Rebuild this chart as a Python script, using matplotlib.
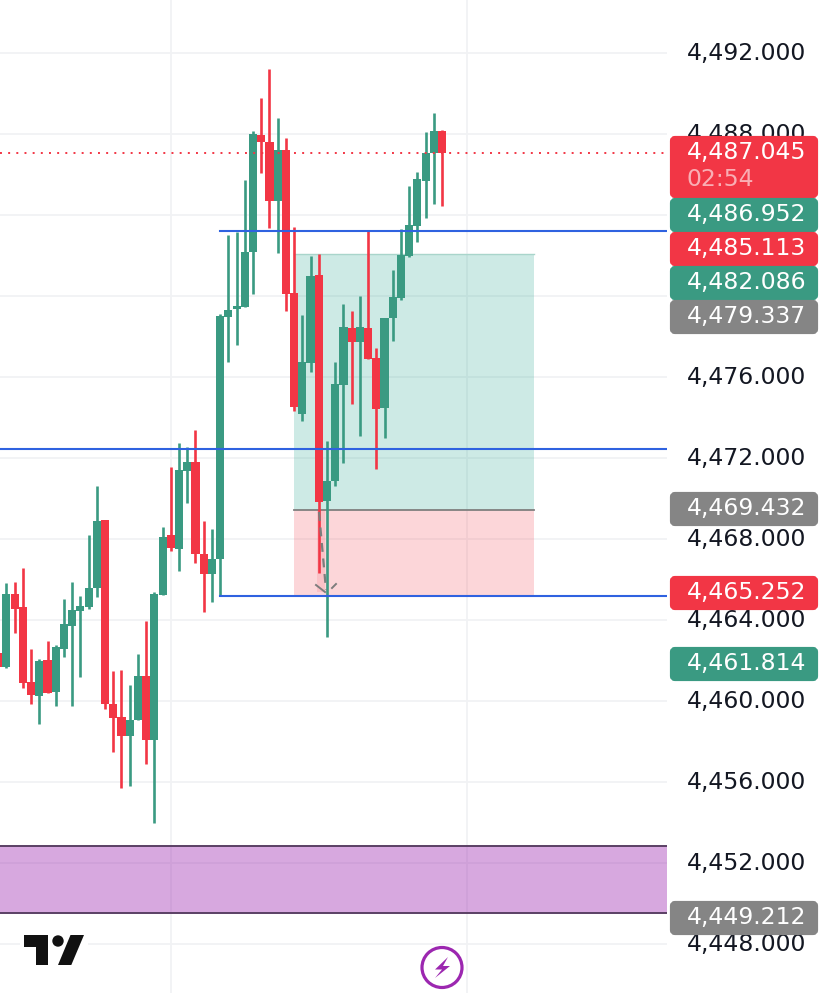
import matplotlib
matplotlib.use("Agg")
import matplotlib.pyplot as plt
from matplotlib.patches import Circle, FancyBboxPatch, Polygon, Rectangle
from matplotlib.transforms import ScaledTranslation

plt.rcParams['font.family'] = ['DejaVu Sans']

# candles, oldest first (first one is cut by the left edge)
opens = [4462.37, 4461.68, 4465.28, 4464.64, 4460.94, 4460.25, 4462.03, 4460.45, 4462.57, 4463.70,
         4464.44, 4464.64, 4465.58, 4468.94, 4459.85, 4459.21, 4458.27, 4459.06, 4461.24, 4458.07,
         4465.23, 4468.20, 4467.51, 4471.36, 4471.80, 4467.26, 4466.27, 4467.01, 4478.96, 4479.36,
         4479.46, 4482.17, 4487.95, 4487.60, 4484.69, 4487.21, 4480.15, 4474.17, 4476.69, 4481.04,
         4469.88, 4470.86, 4475.60, 4478.42, 4477.73, 4478.42, 4476.94, 4474.47, 4478.91, 4479.90,
         4481.97, 4483.46, 4485.68, 4487.06, 4488.15]
highs = [4463.01, 4465.83, 4465.88, 4466.57, 4462.57, 4462.07, 4462.96, 4462.77, 4465.04, 4465.88,
         4465.19, 4468.20, 4470.62, 4468.94, 4461.48, 4461.53, 4460.79, 4462.32, 4463.95, 4465.38,
         4468.59, 4471.56, 4472.74, 4472.54, 4473.38, 4468.89, 4468.49, 4479.11, 4483.01, 4483.16,
         4485.73, 4488.15, 4489.78, 4491.21, 4488.79, 4487.80, 4483.41, 4479.06, 4481.97, 4482.07,
         4472.84, 4476.74, 4479.60, 4479.26, 4480.00, 4483.21, 4477.43, 4478.91, 4481.28, 4483.31,
         4485.43, 4486.12, 4488.10, 4489.04, 4488.20]
lows = [4460.94, 4461.63, 4463.36, 4460.64, 4459.85, 4458.86, 4460.40, 4459.75, 4462.17, 4459.75,
        4461.19, 4464.54, 4465.14, 4459.61, 4457.48, 4455.70, 4455.80, 4459.06, 4456.89, 4453.98,
        4465.23, 4467.41, 4466.42, 4469.78, 4466.82, 4464.40, 4464.89, 4465.19, 4476.74, 4477.58,
        4479.46, 4480.10, 4486.07, 4483.36, 4482.12, 4479.26, 4474.32, 4473.83, 4476.25, 4466.32,
        4463.16, 4470.62, 4471.75, 4474.67, 4473.09, 4476.89, 4471.46, 4472.99, 4477.78, 4479.80,
        4481.93, 4482.67, 4483.85, 4484.54, 4484.44]
closes = [4461.68, 4465.28, 4464.54, 4460.89, 4460.30, 4461.98, 4460.40, 4462.67, 4463.80, 4464.49,
          4464.69, 4465.58, 4468.89, 4459.85, 4459.16, 4458.27, 4459.06, 4461.24, 4458.07, 4465.28,
          4468.10, 4467.56, 4471.41, 4471.80, 4467.26, 4466.27, 4467.01, 4479.01, 4479.31, 4479.51,
          4482.17, 4488.00, 4487.60, 4484.69, 4487.21, 4480.10, 4474.52, 4476.74, 4480.99, 4469.83,
          4470.86, 4475.65, 4478.47, 4477.73, 4478.47, 4476.89, 4474.42, 4478.91, 4479.95, 4482.02,
          4483.51, 4485.78, 4487.06, 4488.15, 4487.05]
candle_x = list(range(-1, 54))

price_ticks = [4448, 4452, 4456, 4460, 4464, 4468, 4472, 4476, 4480, 4484, 4488, 4492]
# 4,480 and 4,484 sit fully behind the price badges
tick_labels = ["4,448.000", "4,452.000", "4,456.000", "4,460.000", "4,464.000", "4,468.000",
               "4,472.000", "4,476.000", "", "", "4,488.000", "4,492.000"]
time_grid = [20, 56]

last_price = 4487.045
level_full = 4472.44
level_upper = 4483.21
level_lower = 4465.19
level_start = 26
pos_start, pos_end = 35, 64.16
pos_target, pos_entry, pos_stop = 4482.086, 4469.432, 4465.252
zone_top, zone_bottom = 4452.84, 4449.53

badge_text = ["4,486.952", "4,485.113", "4,482.086", "4,479.337", "4,469.432", "4,465.252", "4,461.814", "4,449.212"]

GREEN = '#3a9a82'
RED = '#f23645'
GREY = '#858585'
BLUE = '#2f62e0'
GRID = '#f1f2f4'
LABEL_SIZE = 16.9

W, H = 827, 997
fig = plt.figure(figsize=(W / 100, H / 100), dpi=100, facecolor='white')
ax = fig.add_axes([0, 4 / H, 667 / W, 993 / H])
ax.set_xlim(-0.78, 80.36)
ax.set_ylim(4445.58, 4494.617)

for s in ax.spines.values():
    s.set_visible(False)
ax.set_xticks(time_grid)
ax.set_xticklabels([])
ax.set_yticks(price_ticks)
ax.set_yticklabels(tick_labels)
ax.yaxis.tick_right()
ax.tick_params(axis='both', length=0)
ax.tick_params(axis='y', pad=14.4, labelsize=LABEL_SIZE, labelcolor='#131722')
nudge = ScaledTranslation(0, 0.022, fig.dpi_scale_trans)
for lbl in ax.get_yticklabels():
    lbl.set_transform(lbl.get_transform() + nudge)
ax.grid(True, color=GRID, linewidth=1.3)
ax.set_axisbelow(True)

# long position box
ax.fill_between([pos_start, pos_end], pos_entry, pos_target, color='#089981', alpha=0.2, linewidth=0, zorder=1)
ax.fill_between([pos_start, pos_end], pos_stop, pos_entry, color=RED, alpha=0.2, linewidth=0, zorder=1)
ax.plot([pos_start, pos_end], [pos_entry, pos_entry], color='#7f7f7f', linewidth=1.3, zorder=1.5)
ax.plot([pos_start, pos_end], [pos_target, pos_target], color='#a9d5cb', linewidth=1, zorder=1.5)

# purple zone
ax.axhspan(zone_bottom, zone_top, color='#9c27b0', alpha=0.4, linewidth=0, zorder=1)
ax.axhline(zone_top, color='#5a4064', linewidth=1.4, zorder=1.5)
ax.axhline(zone_bottom, color='#5a4064', linewidth=1.4, zorder=1.5)

for x, o, h, l, c in zip(candle_x, opens, highs, lows, closes):
    col = GREEN if c >= o else RED
    ax.vlines(x, l, h, color=col, linewidth=1.9, zorder=3)
    ax.bar(x, abs(c - o), bottom=min(o, c), width=0.99, color=col, linewidth=0, zorder=3)

ax.axhline(last_price, color=RED, linestyle=(0, (1, 3.2)), linewidth=1.4, zorder=4)
ax.axhline(level_full, color=BLUE, linewidth=1.5, zorder=4)
ax.plot([level_start, 80.46], [level_upper, level_upper], color=BLUE, linewidth=1.5, zorder=4)
ax.plot([level_start, 80.46], [level_lower, level_lower], color=BLUE, linewidth=1.5, zorder=4)

# overlay in pixels for price badges, arrow and logos
top = fig.add_axes([0, 0, 1, 1], zorder=5)
top.set_xlim(0, W)
top.set_ylim(H, 0)
top.axis('off')
top.patch.set_alpha(0)


def badge(y0, y1, color):
    top.add_patch(FancyBboxPatch((672, y0 + 2), 144, y1 - y0 - 4, boxstyle='round,pad=0,rounding_size=3',
                                 mutation_aspect=1, facecolor=color, edgecolor=color, linewidth=3))


badge(136, 198, RED)
top.text(687, 152.5, "4,487.045", color='white', fontsize=LABEL_SIZE, va='center')
top.text(687, 179, "02:54", color='white', alpha=0.6, fontsize=LABEL_SIZE, va='center')

badge_y = [(198, 232), (232, 266), (266, 300), (300, 334), (492, 526), (576, 610), (647, 681), (901, 935)]
badge_col = [GREEN, RED, GREEN, GREY, GREY, RED, GREEN, GREY]
for txt, (y0, y1), col in zip(badge_text, badge_y, badge_col):
    badge(y0, y1, col)
    top.text(687, (y0 + y1) / 2 - 0.5, txt, color='white', fontsize=LABEL_SIZE, va='center')

# dashed projection arrow
top.add_patch(Rectangle((317, 510), 8, 82, facecolor=RED, alpha=0.12, linewidth=0))
top.plot([319, 326], [512, 590], color='#7d7d7d', linewidth=1.6, linestyle=(0, (4, 3)))
top.plot([316, 325], [585, 592], color='#7d7d7d', linewidth=1.4)
top.plot([332, 336], [588, 584], color='#7d7d7d', linewidth=1.4)

# TradingView logo
top.add_patch(Rectangle((20, 928), 68, 42, facecolor='white', linewidth=0))
top.add_patch(Polygon([(24, 935), (48.3, 935), (48.3, 965), (36, 965), (36, 947), (24, 947)], color='#111111', linewidth=0))
top.add_patch(Circle((58, 941), 5.7, color='#111111', linewidth=0))
top.add_patch(Polygon([(70.5, 935), (84, 935), (71.3, 965), (58, 965)], color='#111111', linewidth=0))

# bolt icon
top.add_patch(Circle((442, 967.5), 20, facecolor='white', edgecolor='#9c27b0', linewidth=2.3))
top.add_patch(Polygon([(448, 957), (435, 969.5), (442, 969.5), (435, 978), (450, 966), (443, 966)], color='#9c27b0', linewidth=0))

fig.savefig('out.png', dpi=100)
